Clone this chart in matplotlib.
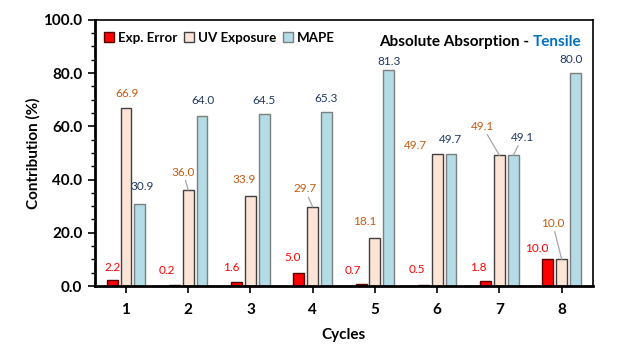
import matplotlib.pyplot as plt
from matplotlib.ticker import MultipleLocator, FormatStrFormatter
import numpy as np

plt.rcParams["font.family"] = ["Lato", "DejaVu Sans"]

cycles = ["1", "2", "3", "4", "5", "6", "7", "8"]
exp_error = [2.2, 0.2, 1.6, 5.0, 0.7, 0.5, 1.8, 10.0]
uv_exposure = [66.9, 36.0, 33.9, 29.7, 18.1, 49.7, 49.1, 10.0]
mape = [30.9, 64.0, 64.5, 65.3, 81.3, 49.7, 49.1, 80.0]

# label offsets (pixels) from bar top, and which labels get a leader line
red_off = [(0, 13), (-8, 15), (-5, 14), (-6, 15), (-8, 14), (-6, 15), (-7, 14), (-11, 11)]
uv_off = [(1, 14), (-5, 18), (-6, 16), (-8, 18), (-10, 16), (-22, 8), (-17, 29), (-9, 36)]
mape_off = [(2, 17), (1, 15), (0, 14), (0, 14), (0, 8), (0, 14), (9, 18), (-4, 14)]
uv_leader = [1, 3, 6, 7]
mape_leader = [6]

fig = plt.figure(figsize=(6.24, 3.52), dpi=100)
ax = fig.add_axes([0.152, 0.1875, 0.798, 0.756])

x = np.arange(1, len(cycles) + 1)
w = 0.175
gap = 0.222

series = [
    (exp_error, -gap, "#FF0000", "#5A0000", "#FF0000", red_off, [], "Exp. Error"),
    (uv_exposure, 0, "#FCE4D6", "#404040", "#C55A11", uv_off, uv_leader, "UV Exposure"),
    (mape, gap, "#B4DCE6", "#7F7F7F", "#203864", mape_off, mape_leader, "MAPE"),
]

for vals, shift, fc, ec, tc, offs, leaders, name in series:
    ax.bar(x + shift, vals, width=w, color=fc, edgecolor=ec, linewidth=1.0, label=name, zorder=2)
    for i, v in enumerate(vals):
        props = None
        if i in leaders:
            props = dict(arrowstyle="-", color="#A6A6A6", lw=0.9, shrinkA=0, shrinkB=0)
        ax.annotate(f"{v:.1f}", xy=(x[i] + shift, v), xytext=offs[i],
                    textcoords="offset pixels", ha="center", va="center",
                    fontsize=8.5, color=tc, arrowprops=props)

ax.set_xlim(0.5, 8.5)
ax.set_ylim(0, 100)
ax.set_xticks(x)
ax.set_xticklabels(cycles)
ax.yaxis.set_major_locator(MultipleLocator(20))
ax.yaxis.set_minor_locator(MultipleLocator(5))
ax.yaxis.set_major_formatter(FormatStrFormatter("%.1f"))
ax.tick_params(axis="both", which="major", length=5, width=1.2, labelsize=11, pad=4)
ax.tick_params(axis="y", which="minor", length=3, width=1.0)
for lab in ax.get_xticklabels() + ax.get_yticklabels():
    lab.set_fontweight("bold")
ax.tick_params(axis="x", pad=7)

for side in ["left", "bottom"]:
    ax.spines[side].set_linewidth(2)
for side in ["top", "right"]:
    ax.spines[side].set_linewidth(1.2)

ax.set_xlabel("Cycles", fontsize=11, fontweight="bold", labelpad=8)
ax.set_ylabel("Contribution (%)", fontsize=11, fontweight="bold", labelpad=2)

leg = ax.legend(loc="upper left", bbox_to_anchor=(0.0, 0.99), ncol=3, frameon=False,
                fontsize=9.6, handlelength=0.75, handleheight=0.75, handletextpad=0.3,
                columnspacing=0.5, borderaxespad=0.3)
for t in leg.get_texts():
    t.set_fontweight("bold")

tensile = ax.text(0.978, 0.918, "Tensile", transform=ax.transAxes, ha="right", va="center",
                  fontsize=11, fontweight="bold", color="#0070C0")
ax.annotate("Absolute Absorption - ", xy=(0, 0.5), xycoords=tensile, ha="right", va="center",
            fontsize=11, fontweight="bold", color="black")

fig.savefig("out.png", dpi=100)
